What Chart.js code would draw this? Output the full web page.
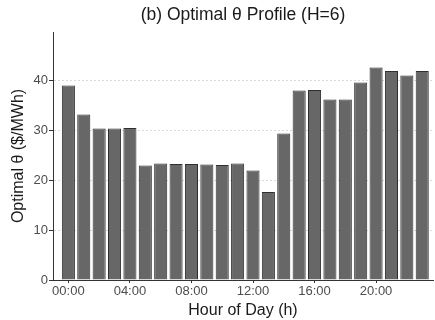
<!DOCTYPE html>
<html>
<head>
<meta charset="utf-8">
<script src="https://cdn.jsdelivr.net/npm/chart.js@4"></script>
<style>
  body { margin: 0; background: #fff; }
  #wrap { width: 435px; height: 320px; }
</style>
</head>
<body>
<div id="wrap"><canvas id="chart"></canvas></div>
<script>
// Hour of day for each bar
const hours = [0, 1, 2, 3, 4, 5, 6, 7, 8, 9, 10, 11, 12, 13, 14, 15, 16, 17, 18, 19, 20, 21, 22, 23];
// Optimal theta per hour ($/MWh)
const thetaValues = [38.9, 33.1, 30.3, 30.3, 30.4, 22.9, 23.3, 23.2, 23.2, 23.1, 23.0, 23.3,
  21.9, 17.6, 29.3, 37.9, 38.0, 36.1, 36.1, 39.5, 42.5, 41.8, 40.9, 41.8];
// Tick labels
const xTickHours = [0, 4, 8, 12, 16, 20];
const xTickLabels = ["00:00", "04:00", "08:00", "12:00", "16:00", "20:00"];
const yTicks = [0, 10, 20, 30, 40];

const titleText = "(b) Optimal θ Profile (H=6)";
const fontFamily = "'Liberation Sans', Arial, Helvetica, sans-serif";

// Title centred over the plot area (like the original)
const plotTitle = {
  id: "plotTitle",
  afterDraw(chart) {
    const ctx = chart.ctx;
    const area = chart.chartArea;
    ctx.save();
    ctx.font = "17.5px " + fontFamily;
    ctx.fillStyle = "#1a1a1a";
    ctx.textAlign = "center";
    ctx.textBaseline = "middle";
    ctx.fillText(titleText, (area.left + area.right) / 2, 15.5);
    ctx.restore();
  },
};

const canvasRef = document.getElementById("chart");

new Chart(canvasRef, {
  type: "bar",
  data: {
    datasets: [
      {
        label: "Optimal θ",
        data: hours.map((h, i) => ({ x: h, y: thetaValues[i] })),
        backgroundColor: "#676767",
        borderColor: "#2f2f2f",
        borderWidth: 1,
        categoryPercentage: 1,
        barPercentage: 0.85,
      },
    ],
  },
  options: {
    responsive: true,
    maintainAspectRatio: false,
    animation: false,
    layout: { padding: { top: 32, right: 2, left: 0, bottom: 0 } },
    plugins: {
      legend: { display: false },
      tooltip: { enabled: false },
      title: { display: false },
    },
    scales: {
      x: {
        type: "linear",
        offset: false,
        min: -1,
        max: 23.7,
        afterBuildTicks: (scale) => {
          scale.ticks = xTickHours.map((v) => ({ value: v }));
        },
        afterFit: (scale) => {
          scale.height = 40;
        },
        ticks: {
          callback: (value, index) => xTickLabels[index],
          font: { family: fontFamily, size: 13 },
          color: "#4d4d4d",
          padding: 1,
          maxRotation: 0,
        },
        grid: {
          offset: false,
          drawOnChartArea: false,
          drawTicks: true,
          tickLength: 3,
          tickColor: "#333",
          tickWidth: 1,
          color: "#333",
        },
        border: { display: true, color: "#333", width: 1 },
        title: {
          display: true,
          text: "Hour of Day (h)",
          font: { family: fontFamily, size: 16 },
          color: "#1a1a1a",
          padding: { top: 0, bottom: 0 },
        },
      },
      y: {
        min: 0,
        max: 49.6,
        afterBuildTicks: (scale) => {
          scale.ticks = yTicks.map((v) => ({ value: v }));
        },
        afterFit: (scale) => {
          scale.width = 53;
        },
        ticks: {
          font: { family: fontFamily, size: 13 },
          color: "#4d4d4d",
          padding: 1,
        },
        grid: {
          color: "#d9d9d9",
          lineWidth: 1,
          drawTicks: true,
          tickLength: 4,
          tickColor: "#333",
          tickWidth: 1,
          tickBorderDash: [],
        },
        border: { display: true, color: "#333", width: 1, dash: [2, 2] },
        title: {
          display: true,
          text: "Optimal θ ($/MWh)",
          font: { family: fontFamily, size: 16 },
          color: "#1a1a1a",
          padding: { top: 9, bottom: 0 },
        },
      },
    },
  },
  plugins: [plotTitle],
});
</script>
</body>
</html>
